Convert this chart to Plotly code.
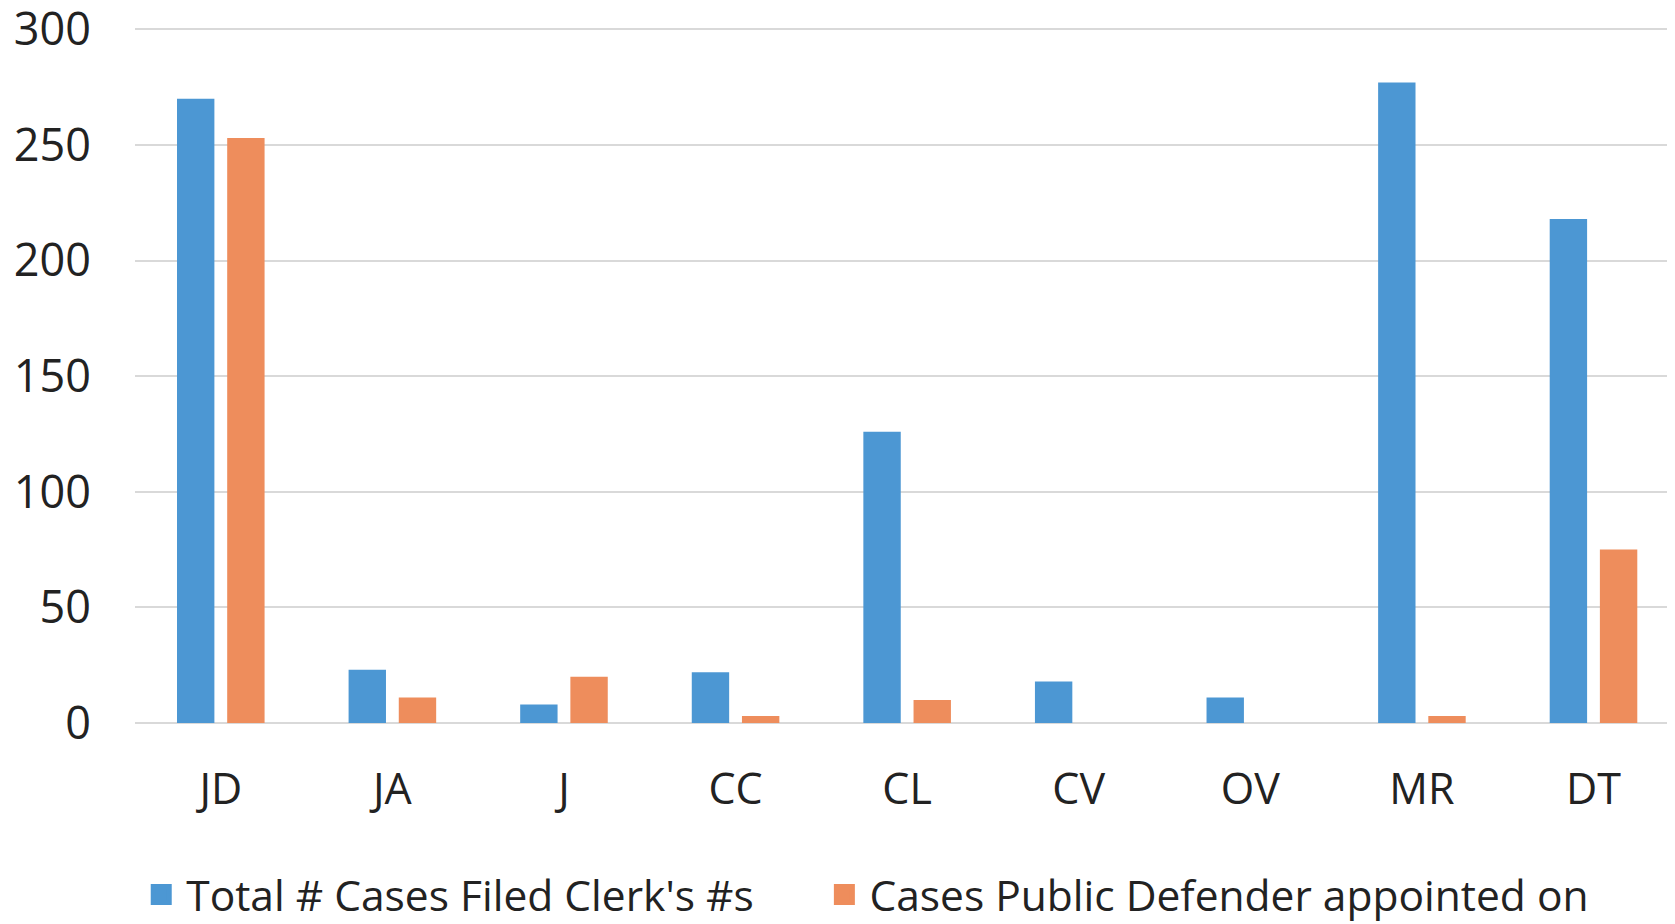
import plotly.graph_objects as go

categories = ["JD", "JA", "J", "CC", "CL", "CV", "OV", "MR", "DT"]
total_cases = [270, 23, 8, 22, 126, 18, 11, 277, 218]
pd_appointed = [253, 11, 20, 3, 10, 0, 0, 3, 75]
series_names = ["Total # Cases Filed Clerk's #s", "Cases Public Defender appointed on"]
y_ticks = [0, 50, 100, 150, 200, 250, 300]

BLUE = "#4C97D3"
ORANGE = "#EE8D5C"
FONT = "Open Sans"
TXT = "#222222"

fig = go.Figure()
fig.add_trace(go.Bar(x=categories, y=total_cases, name=series_names[0], showlegend=False,
                     marker=dict(color=BLUE, line=dict(width=0))))
fig.add_trace(go.Bar(x=categories, y=pd_appointed, name=series_names[1], showlegend=False,
                     marker=dict(color=ORANGE, line=dict(width=0))))
# legend entries with larger square swatches, one legend each
for name, col, lg in zip(series_names, [BLUE, ORANGE], ["legend", "legend2"]):
    fig.add_trace(go.Scatter(x=[None], y=[None], mode="markers", name=name, showlegend=True,
                             legend=lg,
                             marker=dict(symbol="square", size=16, color=col,
                                         line=dict(color=col, width=8))))

leg_common = dict(orientation="h", y=-0.2471, yanchor="middle", xanchor="left",
                  font=dict(size=42.5, family=FONT, color=TXT),
                  itemsizing="trace", itemwidth=40, bgcolor="rgba(0,0,0,0)")

fig.update_layout(
    width=1667, height=916,
    margin=dict(l=127, r=0, t=19, b=201, autoexpand=False),
    paper_bgcolor="white", plot_bgcolor="white",
    barmode="group", bargap=0.415, bargroupgap=0.255,
    font=dict(family=FONT, color=TXT),
    showlegend=True,
    legend=dict(x=0.0008, **leg_common),
    legend2=dict(x=0.4444, **leg_common),
    xaxis=dict(range=[-0.5, 8.475], showgrid=False, showline=False, zeroline=False,
               automargin=False,
               ticks="outside", ticklen=28, tickcolor="rgba(0,0,0,0)",
               tickfont=dict(size=43, family=FONT, color=TXT)),
    yaxis=dict(range=[0, 301], tickvals=y_ticks, showgrid=True, gridcolor="#d9d9d9",
               gridwidth=1.5, zeroline=True, zerolinecolor="#d9d9d9", zerolinewidth=1.5,
               automargin=False, ticklabeloverflow="allow",
               showline=False, ticks="outside", ticklen=34, tickcolor="rgba(0,0,0,0)",
               tickfont=dict(size=45, family=FONT, color=TXT)),
)

fig.write_html("out.html")
